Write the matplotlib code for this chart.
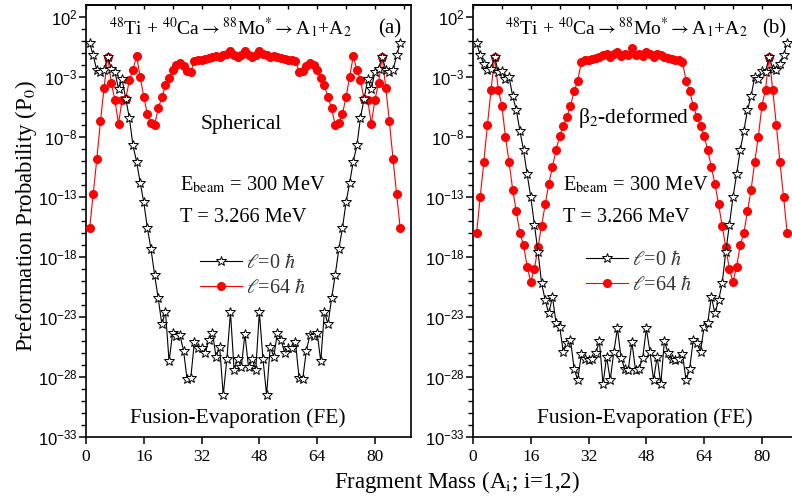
import numpy as np
import matplotlib.pyplot as plt
from matplotlib.ticker import FixedLocator, NullFormatter

plt.rcParams['font.family'] = 'Liberation Serif'
plt.rcParams['mathtext.fontset'] = 'stix'

# fragment mass A1 = 1..87 (A2 = 88 - A1)
mass = np.arange(1, 88)

# log10(P0), spherical nuclei
sph_l0 = [-0.15, -1.2, -2.45, -2.55, -2.4, -1.3, -2.3, -2.55, -4.0, -3.2,
          -4.8, -6.4, -8.7, -10.05, -11.8, -13.45, -15.6, -17.35, -19.5, -21.45,
          -23.6, -22.55, -26.7, -24.3, -24.6, -24.5, -25.8, -28.2, -28.1, -25.1,
          -25.6, -25.6, -26.0, -24.9, -24.3, -26.3, -25.5, -29.5, -26.5, -22.6,
          -27.4, -26.5, -27.2, -24.4,
          -27.2, -26.5, -27.4, -22.6, -26.5, -29.5, -25.5, -26.3, -24.3, -24.9,
          -26.0, -25.6, -25.6, -25.1, -28.1, -28.2, -25.8, -24.5, -24.6, -24.3,
          -26.7, -22.55, -23.6, -21.45, -19.5, -17.35, -15.6, -13.45, -11.8, -10.05,
          -8.7, -6.4, -4.8, -3.2, -4.0, -2.55, -2.3, -1.3, -2.4, -2.55,
          -2.45, -1.2, -0.15]
sph_l64 = [-15.6, -12.75, -9.8, -6.7, -3.9, -1.3, -3.5, -4.9, -6.9, -4.9,
           -4.85, -3.25, -2.4, -1.25, -3.0, -4.65, -6.1, -6.8, -7.0, -5.6,
           -4.7, -3.7, -3.1, -2.4, -2.0, -1.8, -2.1, -2.5, -2.55, -1.65,
           -1.6, -1.55, -1.5, -1.4, -1.3, -1.25, -1.35, -1.2, -1.05, -0.85,
           -1.15, -1.35, -1.15, -0.85,
           -1.15, -1.35, -1.15, -0.85, -1.05, -1.2, -1.35, -1.25, -1.3, -1.4,
           -1.5, -1.55, -1.6, -1.65, -2.55, -2.5, -2.1, -1.8, -2.0, -2.4,
           -3.1, -3.7, -4.7, -5.6, -7.0, -6.8, -6.1, -4.65, -3.0, -1.25,
           -2.4, -3.25, -4.85, -4.9, -6.9, -4.9, -3.5, -1.3, -3.9, -6.7,
           -9.8, -12.75, -15.6]

# log10(P0), beta2-deformed nuclei
def_l0 = [-0.15, -1.2, -1.9, -2.4, -2.3, -1.3, -2.6, -2.5, -3.2, -3.0,
          -4.6, -5.75, -7.5, -9.1, -11.1, -13.0, -15.3, -17.55, -20.2, -21.6,
          -22.7, -21.3, -23.5, -23.8, -25.9, -25.2, -24.9, -27.3, -28.25, -26.1,
          -26.5, -26.6, -26.5, -26.0, -25.0, -28.6, -26.3, -28.25, -25.9, -23.95,
          -26.4, -27.3, -27.4, -25.1,
          -27.4, -27.3, -26.4, -23.95, -25.9, -28.25, -26.3, -28.6, -25.0, -26.0,
          -26.5, -26.6, -26.5, -26.1, -28.25, -27.3, -24.9, -25.2, -25.9, -23.8,
          -23.5, -21.3, -22.7, -21.6, -20.2, -17.55, -15.3, -13.0, -11.1, -9.1,
          -7.5, -5.75, -4.6, -3.0, -3.2, -2.5, -2.6, -1.3, -2.3, -2.4,
          -1.9, -1.2, -0.15]
def_l64 = [-16.0, -13.0, -10.1, -7.0, -4.1, -1.3, -4.05, -5.4, -8.0, -10.1,
           -12.4, -14.2, -16.0, -17.0, -18.8, -20.05, -19.0, -17.2, -15.4, -13.6,
           -11.9, -10.5, -9.1, -7.9, -7.1, -6.3, -5.4, -4.2, -3.3, -1.75,
           -1.6, -1.55, -1.5, -1.4, -1.3, -1.2, -1.1, -1.3, -1.05, -0.95,
           -1.25, -1.1, -1.15, -0.55,
           -1.15, -1.1, -1.25, -0.95, -1.05, -1.3, -1.1, -1.2, -1.3, -1.4,
           -1.5, -1.55, -1.6, -1.75, -3.3, -4.2, -5.4, -6.3, -7.1, -7.9,
           -9.1, -10.5, -11.9, -13.6, -15.4, -17.2, -19.0, -20.05, -18.8, -17.0,
           -16.0, -14.2, -12.4, -10.1, -8.0, -5.4, -4.05, -1.3, -4.1, -7.0,
           -10.1, -13.0, -16.0]

xticks = [0, 16, 32, 48, 64, 80]
ydecades = [2, -3, -8, -13, -18, -23, -28, -33]

fig = plt.figure(figsize=(7.92, 5.03), dpi=100)
ax1 = fig.add_axes([0.1086, 0.1312, 0.4104, 0.8588])
ax2 = fig.add_axes([0.5972, 0.1312, 0.4104, 0.8588])


def setup(ax):
    ax.set_yscale('log')
    ax.set_xlim(0, 90)
    ax.set_ylim(1e-33, 1e3)
    ax.set_xticks(xticks)
    ax.set_xticklabels([str(t) for t in xticks])
    ax.set_yticks([10.0**d for d in ydecades])
    ax.set_yticklabels([r'$\mathregular{10^{%d}}$' % d for d in ydecades])
    ax.yaxis.set_minor_locator(FixedLocator([10.0**d for d in range(-33, 3)]))
    ax.yaxis.set_minor_formatter(NullFormatter())
    ax.tick_params(axis='both', which='major', direction='out', length=5, width=1.1,
                   labelsize=12.5)
    ax.tick_params(axis='y', which='minor', direction='out', length=3.5, width=1.0)
    ax.tick_params(axis='y', labelfontfamily='Liberation Sans', labelsize=12, pad=1)
    for sp in ax.spines.values():
        sp.set_linewidth(1.2)
    top = ax.secondary_xaxis('top')
    top.set_xticks(list(range(0, 90, 8)))
    top.tick_params(direction='in', length=3, width=1.0, labeltop=False)
    top.xaxis.set_major_formatter(NullFormatter())
    top.spines['top'].set_linewidth(1.2)


for ax, l0, l64 in [(ax1, sph_l0, sph_l64), (ax2, def_l0, def_l64)]:
    setup(ax)
    ax.plot(mass, 10.0**np.array(l64), '-o', color='red', lw=0.8, ms=5.5,
            mec='red', label=r'$\ell$=64 $\hbar$', zorder=3)
    ax.plot(mass, 10.0**np.array(l0), '-*', color='black', lw=0.8, ms=7.5,
            mfc='white', mec='black', mew=0.7, label=r'$\ell$=0 $\hbar$', zorder=4)
    h, lab = ax.get_legend_handles_labels()
    leg = ax.legend(h[::-1], lab[::-1], fontsize=14.5, frameon=False, loc='upper left',
                    handlelength=2.1, handletextpad=0.2, labelspacing=0.28,
                    borderpad=0, borderaxespad=0,
                    bbox_to_anchor=(0.351, 0.424) if ax is ax1 else (0.348, 0.431))
    for t in leg.get_texts():
        t.set_color('#333333')

reaction = r'$^{48}$Ti + $^{40}$Ca$\rightarrow^{88}$Mo$^{*}$$\rightarrow$A$_1$+A$_2$'

ax1.text(0.443, 0.931, reaction, transform=ax1.transAxes, ha='center', va='baseline', fontsize=14)
ax1.text(0.934, 0.935, '(a)', transform=ax1.transAxes, ha='center', va='baseline', fontsize=15)
ax1.text(0.477, 0.713, 'Spherical', transform=ax1.transAxes, ha='center', va='baseline', fontsize=15.5)
ax1.text(0.289, 0.570, r'E$_{\rm beam}$ = 300 MeV', transform=ax1.transAxes, ha='left', va='baseline', fontsize=14.7)
ax1.text(0.289, 0.498, 'T = 3.266 MeV', transform=ax1.transAxes, ha='left', va='baseline', fontsize=14.7)
ax1.text(0.468, 0.033, 'Fusion-Evaporation (FE)', transform=ax1.transAxes, ha='center', va='baseline', fontsize=15.5)

ax2.text(0.472, 0.931, reaction, transform=ax2.transAxes, ha='center', va='baseline', fontsize=14)
ax2.text(0.926, 0.935, '(b)', transform=ax2.transAxes, ha='center', va='baseline', fontsize=15)
ax2.text(0.495, 0.727, r'β$_2$-deformed', transform=ax2.transAxes, ha='center', va='baseline', fontsize=15.5)
ax2.text(0.277, 0.570, r'E$_{\rm beam}$ = 300 MeV', transform=ax2.transAxes, ha='left', va='baseline', fontsize=14.7)
ax2.text(0.277, 0.498, 'T = 3.266 MeV', transform=ax2.transAxes, ha='left', va='baseline', fontsize=14.7)
ax2.text(0.528, 0.033, 'Fusion-Evaporation (FE)', transform=ax2.transAxes, ha='center', va='baseline', fontsize=15.5)

fig.text(0.033, 0.570, r'Preformation Probability (P$_0$)', rotation=90, ha='center', va='center', fontsize=16.5)
fig.text(0.577, 0.042, r'Fragment Mass (A$_{\rm i}$; i=1,2)', ha='center', va='center', fontsize=16.5)

fig.savefig('out.png', dpi=100)
